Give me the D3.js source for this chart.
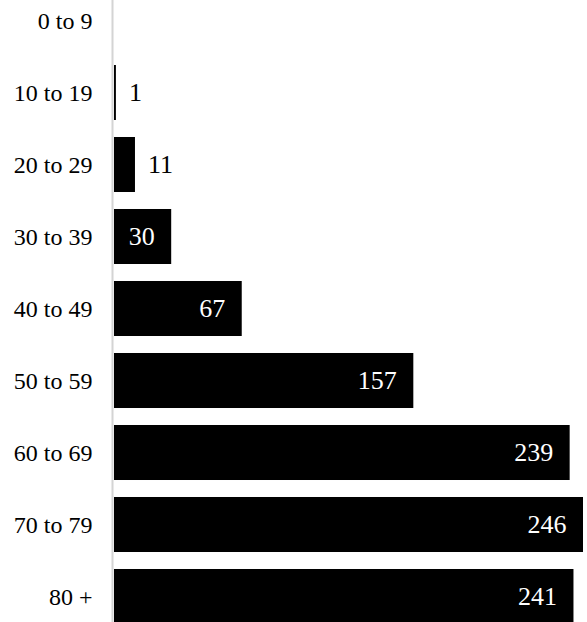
<!DOCTYPE html>
<html>
<head>
<meta charset="utf-8">
<script src="https://cdn.jsdelivr.net/npm/d3@7"></script>
<style>
  body { margin: 0; background: #fff; }
  text { font-family: "Liberation Serif", "Times New Roman", serif; }
</style>
</head>
<body>
<div id="chart"></div>
<script>
// Data
var ageGroups = ["0 to 9", "10 to 19", "20 to 29", "30 to 39", "40 to 49",
  "50 to 59", "60 to 69", "70 to 79", "80 +"];
var counts = [0, 1, 11, 30, 67, 157, 239, 246, 241];

// Constants
var WIDTH = 587, HEIGHT = 622,
  LEFT = 114,
  RIGHT = 583;

var rowsData = ageGroups.map(function(g, i) { return { group: g, count: counts[i] }; });

var svg = d3.select("#chart").append("svg")
  .attr("width", WIDTH)
  .attr("height", HEIGHT);

var x = d3.scaleLinear()
  .domain([0, 246])
  .range([LEFT, RIGHT]);

// bands run a bit past the top and bottom edges, as in the original crop
var y = d3.scaleBand()
  .domain(ageGroups)
  .range([-15.5, 632.5])
  .paddingInner(0.236)
  .paddingOuter(0.118);

var rows = svg.selectAll("g.row")
  .data(rowsData)
  .enter()
  .append("g")
  .attr("class", "row");

rows.append("rect")
  .attr("x", x(0))
  .attr("y", function(d) { return y(d.group); })
  .attr("width", function(d) { return x(d.count) - x(0); })
  .attr("height", y.bandwidth())
  .attr("fill", "#000");

// value labels: inside (white, right aligned) when they fit, else outside
rows.filter(function(d) { return d.count > 0; })
  .append("text")
  .attr("x", function(d) {
    return d.count >= 30 ? x(d.count) - 16.5 : x(d.count) + 13;
  })
  .attr("y", function(d) { return y(d.group) + y.bandwidth() / 2; })
  .attr("dy", "0.34em")
  .attr("text-anchor", function(d) { return d.count >= 30 ? "end" : "start"; })
  .attr("fill", function(d) { return d.count >= 30 ? "#fff" : "#000"; })
  .style("font-size", "26px")
  .text(function(d) { return d.count; });

// category axis
var yAxis = svg.append("g")
  .attr("transform", "translate(" + (LEFT - 1.5) + ",0)")
  .call(d3.axisLeft(y).tickSize(0).tickPadding(20));

yAxis.select(".domain")
  .attr("d", "M0,0V" + HEIGHT)
  .attr("stroke", "#d4d4d4")
  .attr("stroke-width", 2);

yAxis.selectAll("text")
  .attr("fill", "#000")
  .attr("dy", "0.36em")
  .style("font-size", "24px")
  .style("font-family", "'Liberation Serif', 'Times New Roman', serif");
</script>
</body>
</html>
